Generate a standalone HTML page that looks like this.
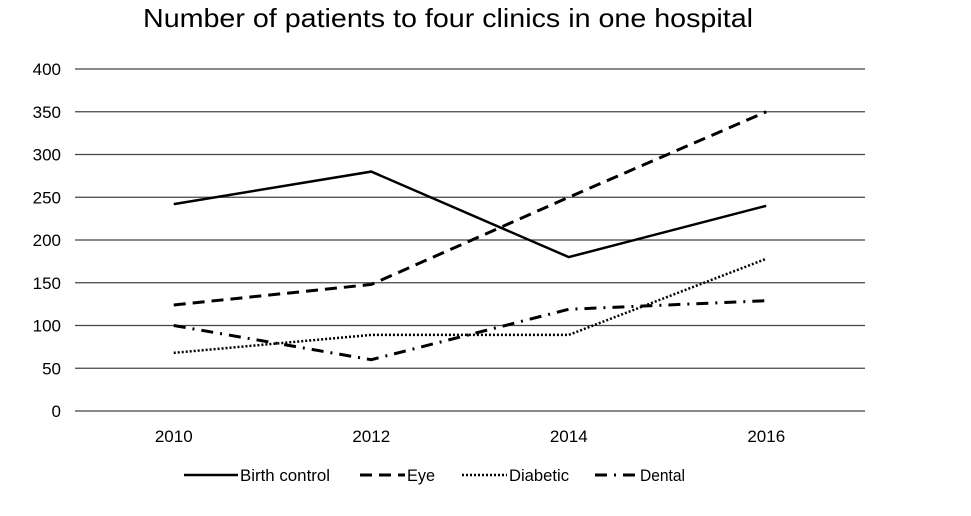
<!DOCTYPE html>
<html><head><meta charset="utf-8"><style>
body{margin:0;background:#fff;font-family:"Liberation Sans",sans-serif}
</style></head><body>
<svg id="c" width="971" height="511" xmlns="http://www.w3.org/2000/svg"></svg>
<script>
const categories=["2010","2012","2014","2016"];
const birthControl=[242,280,180,240];
const eye=[124,148,250,350];
const diabetic=[68,89,89,178];
const dental=[100,60,119,129];
const yTicks=[0,50,100,150,200,250,300,350,400];
const seriesNames=["Birth control","Eye","Diabetic","Dental"];

const svg=document.getElementById('c');
const NS="http://www.w3.org/2000/svg";
const x0=75,x1=865,yTop=69,yBot=411;
const xS=i=>x0+(x1-x0)*(i+0.5)/categories.length;
const yS=v=>yBot-(v/400)*(yBot-yTop);
function mk(t,a,txt){const e=document.createElementNS(NS,t);for(const k in a)e.setAttribute(k,a[k]);if(txt!==undefined)e.textContent=txt;svg.appendChild(e);return e;}

const title=mk('text',{x:143,y:27,'font-size':26,fill:'#000',textLength:610,lengthAdjust:'spacingAndGlyphs'},'Number of patients to four clinics in one hospital');



yTicks.forEach(v=>{
  const g=mk('line',{x1:x0,x2:x1,y1:yS(v),y2:yS(v),stroke:v===0?'#888':'#444','stroke-width':v===0?2:1.3});
  
  
  const t=mk('text',{x:61,y:yS(v)+6,'text-anchor':'end','font-size':17,fill:'#000'},v);
  
  
});
categories.forEach((c,i)=>{
  const t=mk('text',{x:xS(i),y:442,'text-anchor':'middle','font-size':17,fill:'#000'},c);
  
  
});
const dashes=[null,"12,7","2,2","12,7,2,7"];
const widths=[2.5,3,2.5,3];
[birthControl,eye,diabetic,dental].forEach((s,k)=>{
  const p=s.map((v,i)=>xS(i)+','+yS(v)).join(' ');
  const a={points:p,fill:'none',stroke:'#000','stroke-width':widths[k]};
  if(dashes[k])a['stroke-dasharray']=dashes[k];
  const l=mk('polyline',a);
  
  
});
const lx=[184,360,462,595];
const lw=[54,45,45,43];
const tw=[90,28,60,45];
seriesNames.forEach((n,k)=>{
  const a={x1:lx[k],x2:lx[k]+lw[k],y1:475,y2:475,stroke:'#000','stroke-width':widths[k]};
  if(dashes[k])a['stroke-dasharray']=dashes[k];
  const l=mk('line',a);
  
  
  const t=mk('text',{x:lx[k]+lw[k]+2,y:481,'font-size':17,fill:'#000',textLength:tw[k],lengthAdjust:'spacingAndGlyphs'},n);
  
  
});
</script>
</body></html>
